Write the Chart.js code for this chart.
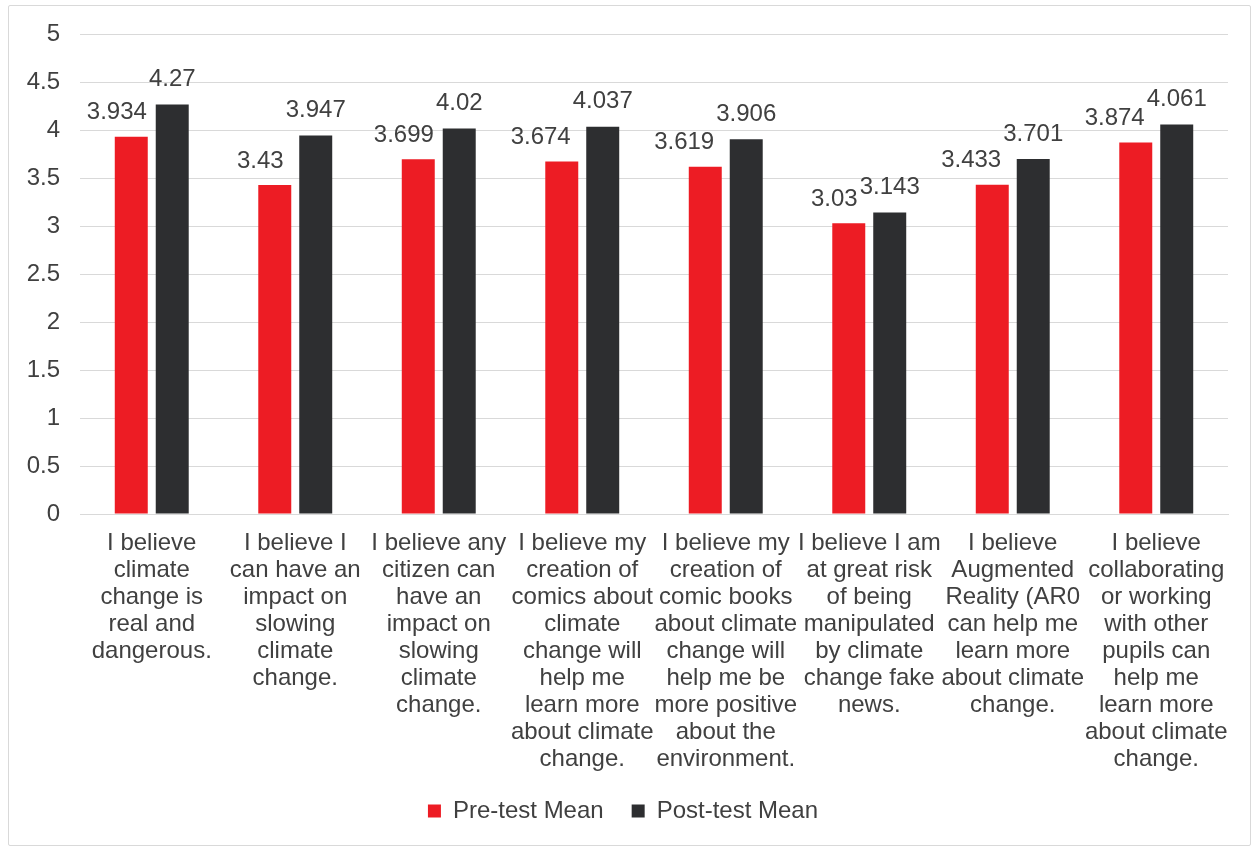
<!DOCTYPE html>
<html>
<head>
<meta charset="utf-8">
<script src="https://cdn.jsdelivr.net/npm/chart.js@4"></script>
<style>
  html, body { margin: 0; padding: 0; background: #fff; }
  #wrap { position: relative; width: 1258px; height: 847px; }
  #frame { position: absolute; left: 8px; top: 5px; width: 1241px; height: 839px;
           border: 1px solid #d9d9d9; border-radius: 2px; }
  #chart { position: absolute; left: 0; top: 0; }
</style>
</head>
<body>
<div id="wrap">
  <div id="frame"></div>
  <canvas id="chart" width="1258" height="847"></canvas>
</div>
<script>
// ---------- データ ----------
var categories = [
  ["I believe", "climate", "change is", "real and", "dangerous."],
  ["I believe I", "can have an", "impact on", "slowing", "climate", "change."],
  ["I believe any", "citizen can", "have an", "impact on", "slowing", "climate", "change."],
  ["I believe my", "creation of", "comics about", "climate", "change will", "help me", "learn more", "about climate", "change."],
  ["I believe my", "creation of", "comic books", "about climate", "change will", "help me be", "more positive", "about the", "environment."],
  ["I believe I am", "at great risk", "of being", "manipulated", "by climate", "change fake", "news."],
  ["I believe", "Augmented", "Reality (AR0", "can help me", "learn more", "about climate", "change."],
  ["I believe", "collaborating", "or working", "with other", "pupils can", "help me", "learn more", "about climate", "change."]
];
var preLabel = "Pre-test Mean";
var postLabel = "Post-test Mean";
var preMean = [3.934, 3.43, 3.699, 3.674, 3.619, 3.03, 3.433, 3.874];
var postMean = [4.27, 3.947, 4.02, 4.037, 3.906, 3.143, 3.701, 4.061];
var yMin = 0, yMax = 5, yStep = 0.5;

var FONT = "'Liberation Sans', Arial, sans-serif";
var TEXT = "#404040";
var RED = "#ed1c24";
var DARK = "#2d2e30";

// 値ラベル: 棒の上に置く。Pre側はPost側ラベルに被らないよう左に寄せる
var valueLabels = {
  id: "valueLabels",
  afterDatasetsDraw: function (chart) {
    var ctx = chart.ctx;
    ctx.save();
    ctx.font = "24px " + FONT;
    ctx.fillStyle = TEXT;
    ctx.textAlign = "center";
    ctx.textBaseline = "middle";
    var m0 = chart.getDatasetMeta(0), m1 = chart.getDatasetMeta(1);
    for (var i = 0; i < preMean.length; i++) {
      var a = m0.data[i], b = m1.data[i];
      var ta = String(preMean[i]), tb = String(postMean[i]);
      var wa = ctx.measureText(ta).width, wb = ctx.measureText(tb).width;
      var xb = b.x;
      var xa = Math.min(a.x, xb - wb / 2 - 2 - wa / 2);
      ctx.fillText(ta, xa, a.y - 24);
      ctx.fillText(tb, xb, b.y - 25);
    }
    ctx.restore();
  }
};

new Chart(document.getElementById("chart"), {
  type: "bar",
  data: {
    labels: categories,
    datasets: [
      { label: preLabel, data: preMean, backgroundColor: RED },
      { label: postLabel, data: postMean, backgroundColor: DARK }
    ]
  },
  options: {
    responsive: false,
    animation: false,
    devicePixelRatio: 1,
    categoryPercentage: 0.571,
    barPercentage: 0.805,
    layout: { padding: { top: 34, right: 30, bottom: 14, left: 18 } },
    plugins: {
      tooltip: { enabled: false },
      legend: {
        position: "bottom",
        labels: {
          color: TEXT, font: { family: FONT, size: 24 },
          boxWidth: 13, boxHeight: 13, padding: 28
        }
      }
    },
    scales: {
      x: {
        grid: { display: false, drawTicks: false },
        border: { color: "#d9d9d9" },
        ticks: { color: TEXT, font: { family: FONT, size: 24, lineHeight: 1.125 },
                 padding: 16, maxRotation: 0, autoSkip: false },
        afterFit: function (s) {
          var lg = s.chart.legend ? s.chart.legend.height : 62;
          s.height = 847 - 14 - lg - 514;
        }
      },
      y: {
        min: yMin, max: yMax,
        grid: { color: "#d9d9d9", drawTicks: false },
        border: { display: false },
        ticks: { stepSize: yStep, color: TEXT, font: { family: FONT, size: 24 }, padding: 20,
                 callback: function (v) { return String(+v); } },
        afterFit: function (s) { s.width = 62; }
      }
    }
  },
  plugins: [valueLabels]
});
</script>
</body>
</html>
